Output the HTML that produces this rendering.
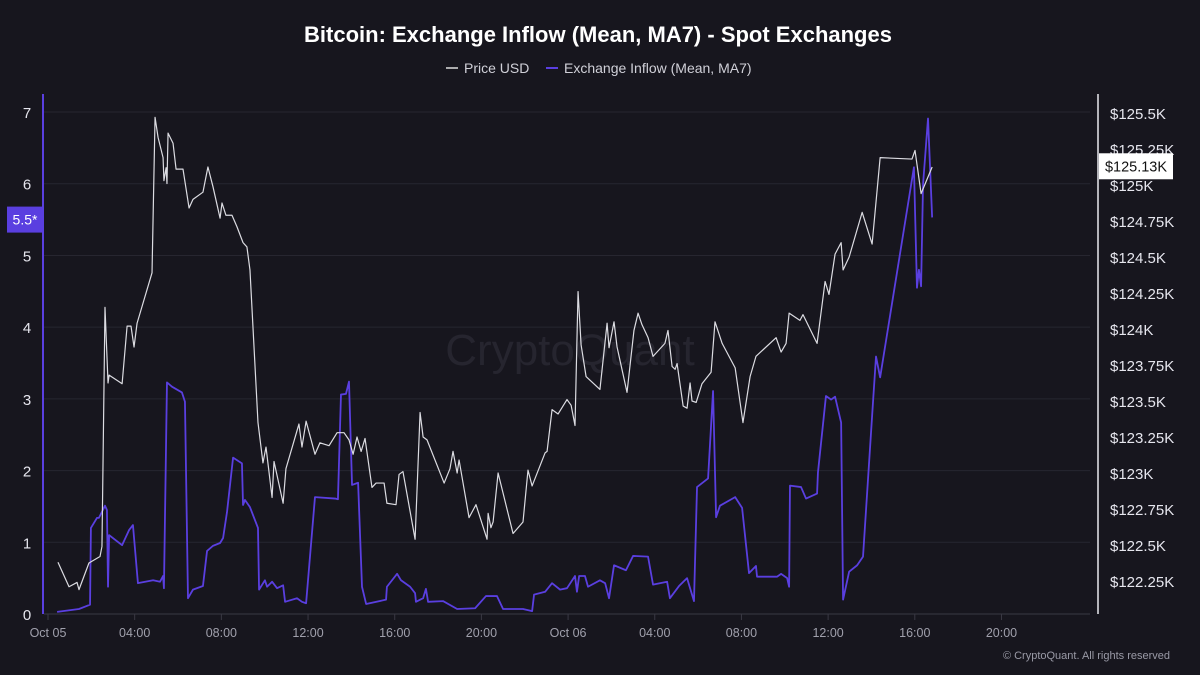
<!DOCTYPE html>
<html><head><meta charset="utf-8">
<style>
html,body{margin:0;padding:0;background:#17161e;}
body{width:1200px;height:675px;overflow:hidden;font-family:"Liberation Sans",sans-serif;}
</style></head>
<body>
<svg id="chart" width="1200" height="675" xmlns="http://www.w3.org/2000/svg" style="display:block">
<rect width="1200" height="675" fill="#17161e"/>
<text x="598" y="42" text-anchor="middle" fill="#ffffff" font-size="22" font-weight="bold">Bitcoin: Exchange Inflow (Mean, MA7) - Spot Exchanges</text>
<g>
<g><line x1="446" y1="68" x2="458" y2="68" stroke="#dddddd" stroke-width="1.5"/><text x="464" y="73" fill="#d0d0d8" font-size="14">Price USD</text></g>
<g><line x1="546" y1="68" x2="558" y2="68" stroke="#5a3fe0" stroke-width="2"/><text x="564" y="73" fill="#d0d0d8" font-size="14">Exchange Inflow (Mean, MA7)</text></g>
</g>
<text x="570" y="365" text-anchor="middle" fill="#26252f" font-size="44">CryptoQuant</text>
<g id="grid"></g>
<g id="axes"></g>
<g id="series"></g>
<text x="1170" y="659" text-anchor="end" fill="#9a9aa6" font-size="11">© CryptoQuant. All rights reserved</text>
</svg>
<script>
const leftTicks=[0,1,2,3,4,5,6,7];
const rightTicks=[122.25,122.5,122.75,123,123.25,123.5,123.75,124,124.25,124.5,124.75,125,125.25,125.5];
const rightTickLabels=["$122.25K","$122.5K","$122.75K","$123K","$123.25K","$123.5K","$123.75K","$124K","$124.25K","$124.5K","$124.75K","$125K","$125.25K","$125.5K"];
const xTicks=[0,4,8,12,16,20,24,28,32,36,40,44];
const xTickLabels=["Oct 05","04:00","08:00","12:00","16:00","20:00","Oct 06","04:00","08:00","12:00","16:00","20:00"];
const priceHours=[0.46,0.97,1.34,1.43,1.89,2.40,2.49,2.63,2.77,2.82,3.42,3.65,3.83,3.97,4.11,4.80,4.94,5.08,5.31,5.35,5.45,5.49,5.54,5.77,5.91,6.23,6.51,6.69,7.15,7.38,7.61,7.94,8.03,8.21,8.49,8.72,9.00,9.18,9.32,9.69,9.92,10.06,10.34,10.43,10.85,10.98,11.58,11.72,11.91,12.32,12.55,12.97,13.34,13.66,13.89,14.08,14.26,14.45,14.63,14.95,15.14,15.51,15.64,16.06,16.20,16.38,16.94,17.17,17.31,17.49,18.28,18.55,18.69,18.88,18.97,19.43,19.75,20.26,20.31,20.44,20.54,20.77,21.00,21.46,21.92,22.15,22.34,22.94,23.03,23.26,23.54,23.95,24.14,24.32,24.46,24.60,24.83,25.47,25.80,25.89,26.12,26.26,26.72,27.04,27.23,27.41,27.69,27.92,28.47,28.61,28.80,28.94,29.03,29.31,29.49,29.63,29.72,29.91,30.18,30.60,30.78,31.11,31.71,32.07,32.40,32.67,33.60,33.83,34.06,34.20,34.70,34.84,35.49,35.86,36.04,36.32,36.60,36.69,36.97,37.57,38.03,38.40,39.87,40.01,40.29,40.80];
const priceValues=[122.38,122.21,122.24,122.19,122.375,122.42,122.49,124.15,123.625,123.68,123.62,124.02,124.02,123.875,124.04,124.39,125.47,125.33,125.19,125.03,125.12,125.01,125.36,125.29,125.11,125.11,124.84,124.90,124.95,125.125,124.99,124.77,124.875,124.79,124.79,124.71,124.60,124.57,124.41,123.35,123.07,123.18,122.83,123.08,122.79,123.03,123.34,123.18,123.36,123.13,123.21,123.19,123.28,123.28,123.23,123.13,123.25,123.15,123.24,122.90,122.93,122.93,122.79,122.78,122.99,123.01,122.54,123.42,123.25,123.23,122.93,123.03,123.15,123.00,123.09,122.69,122.78,122.54,122.72,122.62,122.66,123.00,122.86,122.58,122.66,123.02,122.91,123.14,123.15,123.44,123.41,123.51,123.47,123.33,124.26,123.89,123.67,123.58,124.04,123.87,124.05,123.875,123.56,123.99,124.11,124.03,123.94,123.81,123.90,123.99,123.74,123.72,123.76,123.465,123.45,123.625,123.50,123.49,123.62,123.70,124.05,123.90,123.73,123.35,123.67,123.81,123.94,123.84,123.90,124.11,124.06,124.10,123.90,124.33,124.24,124.52,124.60,124.41,124.50,124.81,124.59,125.19,125.18,125.24,124.94,125.125];
const inflowHours=[0.42,1.43,1.94,1.98,2.26,2.35,2.63,2.72,2.77,2.82,3.42,3.74,3.92,4.15,4.85,5.17,5.31,5.35,5.49,5.72,6.18,6.32,6.46,6.69,7.15,7.34,7.61,7.94,8.08,8.26,8.54,8.95,9.00,9.09,9.32,9.69,9.74,10.01,10.11,10.34,10.57,10.85,10.94,11.49,11.72,11.91,12.32,13.25,13.38,13.52,13.75,13.89,14.03,14.31,14.49,14.68,15.60,15.64,16.11,16.29,16.71,16.94,16.98,17.31,17.44,17.54,18.23,18.88,19.71,20.21,20.72,21.00,21.92,22.34,22.43,22.94,23.26,23.63,23.95,24.32,24.41,24.51,24.78,24.92,25.47,25.71,25.89,26.12,26.67,27.00,27.69,27.92,28.57,28.70,29.12,29.49,29.81,29.95,30.46,30.69,30.83,31.01,31.71,32.03,32.35,32.67,32.72,33.64,33.83,34.11,34.20,34.24,34.75,34.98,35.49,35.53,35.90,36.14,36.32,36.60,36.69,36.97,37.34,37.61,38.07,38.21,38.40,39.96,40.10,40.19,40.29,40.38,40.61,40.80];
const inflowValues=[0.03,0.07,0.13,1.20,1.34,1.34,1.51,1.45,0.38,1.10,0.96,1.17,1.24,0.43,0.47,0.45,0.53,0.36,3.23,3.17,3.09,2.96,0.22,0.34,0.39,0.88,0.95,0.99,1.06,1.42,2.18,2.10,1.52,1.59,1.49,1.20,0.34,0.47,0.38,0.45,0.36,0.40,0.17,0.22,0.17,0.15,1.63,1.61,1.60,3.06,3.07,3.24,1.80,1.83,0.38,0.14,0.20,0.38,0.56,0.47,0.38,0.29,0.17,0.22,0.35,0.17,0.18,0.07,0.08,0.25,0.25,0.07,0.07,0.04,0.27,0.31,0.43,0.34,0.36,0.53,0.31,0.53,0.53,0.38,0.47,0.43,0.22,0.68,0.61,0.81,0.80,0.41,0.45,0.22,0.39,0.50,0.18,1.77,1.89,3.11,1.35,1.51,1.63,1.48,0.57,0.67,0.52,0.52,0.56,0.50,0.38,1.79,1.77,1.61,1.68,1.97,3.04,2.99,3.03,2.67,0.20,0.59,0.68,0.80,2.95,3.59,3.30,6.23,4.55,4.80,4.57,5.99,6.91,5.53];
const lastPriceLabel="$125.13K";
const lastPrice=125.13;
const leftMarker=5.5;

const NS="http://www.w3.org/2000/svg";
function X(h){return 48+h*21.67;}
function YL(v){return 614-v*71.71;}
function YP(p){return 113+(125.5-p)*144;}
function mk(tag,attrs,parent){const e=document.createElementNS(NS,tag);for(const k in attrs)e.setAttribute(k,attrs[k]);parent.appendChild(e);return e;}
const grid=document.getElementById('grid'),axes=document.getElementById('axes'),series=document.getElementById('series');

leftTicks.forEach(v=>{
  const l=mk('line',{x1:44,x2:1090,y1:YL(v),y2:YL(v),stroke:v===0?'#3a3944':'#272630','stroke-width':1},grid);
  
  
  const t=mk('text',{x:27,y:YL(v)+6,'text-anchor':'middle',fill:'#e6e6ee','font-size':15},axes);
  t.textContent=v;
  
  
});
rightTicks.forEach((p,i)=>{
  const t=mk('text',{x:1110,y:YP(p)+6,fill:'#e6e6ee','font-size':15},axes);
  t.textContent=rightTickLabels[i];
  
  
});
xTicks.forEach((h,i)=>{
  const tk=mk('line',{x1:X(h),x2:X(h),y1:614,y2:620,stroke:'#3a3944'},axes);
  
  
  const t=mk('text',{x:X(h),y:637,'text-anchor':'middle',fill:'#a0a0ac','font-size':12.5},axes);
  t.textContent=xTickLabels[i];
  
  
});
const la=mk('line',{x1:43,x2:43,y1:94,y2:614,stroke:'#5a3fe0','stroke-width':2},axes);


const ra=mk('line',{x1:1098,x2:1098,y1:94,y2:614,stroke:'#e8e8ee','stroke-width':1.5},axes);



const ip=mk('polyline',{points:inflowHours.map((h,i)=>X(h)+','+YL(inflowValues[i])).join(' '),fill:'none',stroke:'#5a3fe0','stroke-width':1.8,'stroke-linejoin':'round'},series);


const pp=mk('polyline',{points:priceHours.map((h,i)=>X(h)+','+YP(priceValues[i])).join(' '),fill:'none',stroke:'#dcdce2','stroke-width':1.2,'stroke-linejoin':'round'},series);



const by=YP(lastPrice);
const br=mk('rect',{x:1099,y:by-13,width:74,height:26,fill:'#ffffff'},axes);


const bt=mk('text',{x:1136,y:by+5,'text-anchor':'middle',fill:'#111','font-size':14.5},axes);
bt.textContent=lastPriceLabel;


const ly=YL(leftMarker);
const lr=mk('rect',{x:7,y:ly-13,width:36,height:26,fill:'#5a3fe0'},axes);


const lt=mk('text',{x:25,y:ly+5,'text-anchor':'middle',fill:'#fff','font-size':14},axes);
lt.textContent=leftMarker+'*';


</script>
</body></html>
